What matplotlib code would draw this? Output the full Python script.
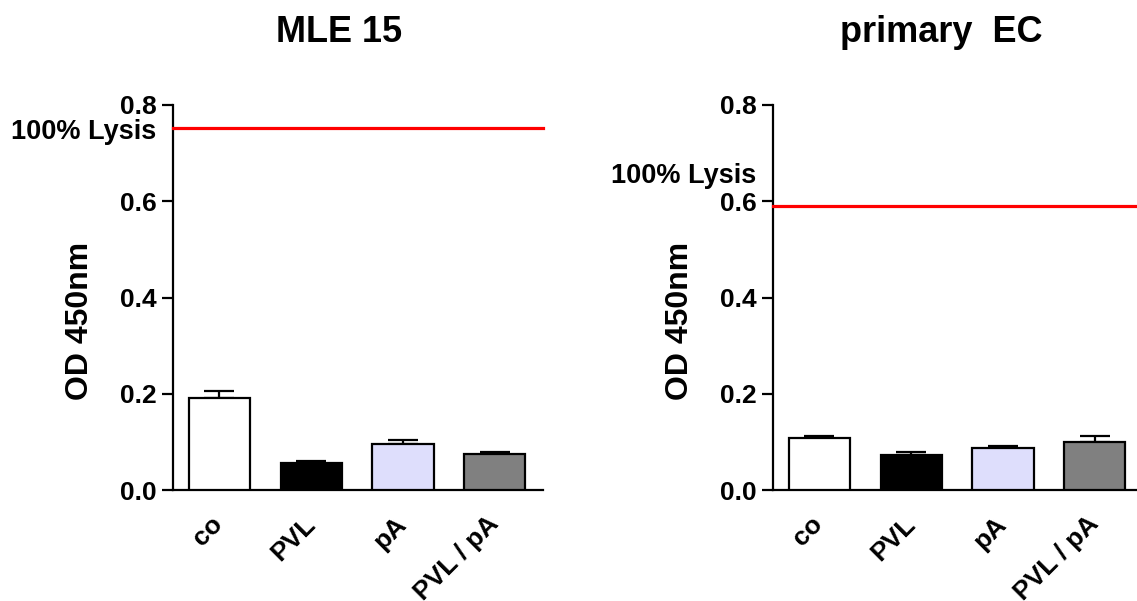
import matplotlib
matplotlib.use('Agg')
import matplotlib.pyplot as plt
import numpy as np

plt.rcParams['font.family'] = ['Liberation Sans', 'DejaVu Sans']
plt.rcParams['font.weight'] = 'bold'

categories = ['co', 'PVL', 'pA', 'PVL / pA']
bar_colors = ['#ffffff', '#000000', '#dedefc', '#808080']

mle_mean = [0.191, 0.056, 0.095, 0.075]
mle_err = [0.015, 0.005, 0.008, 0.003]
ec_mean = [0.108, 0.073, 0.088, 0.099]
ec_err = [0.005, 0.007, 0.004, 0.014]

titles = ['MLE 15', 'primary  EC']
lysis_level = [0.752, 0.59]
# where the "100% Lysis" text baseline sits (data units)
lysis_text_y = [0.730, 0.6376]

fig = plt.figure(figsize=(11.37, 6.01), dpi=100)
ax_w = 369.4 / 1137
ax_h = 385 / 601
ax_b = (601 - 490) / 601
axes = [fig.add_axes([173.3 / 1137, ax_b, ax_w, ax_h]),
        fig.add_axes([773.3 / 1137, ax_b, ax_w, ax_h])]

panels = [(mle_mean, mle_err), (ec_mean, ec_err)]
title_x = [339 / 1137, 941 / 1137]

for i, ax in enumerate(axes):
    mean, err = panels[i]
    x = np.arange(len(categories))
    ax.bar(x, mean, width=0.665, color=bar_colors, edgecolor='k', linewidth=1.6, zorder=3)
    ax.errorbar(x, mean, yerr=[np.zeros(len(err)), err], fmt='none', ecolor='k',
                elinewidth=1.6, capsize=11, capthick=1.6, zorder=2)
    ax.axhline(lysis_level[i], color='#ff0000', linewidth=2.3, zorder=4, clip_on=False)
    ax.text(-16.6 / 369.4, lysis_text_y[i], '100% Lysis', transform=ax.get_yaxis_transform(),
            ha='right', va='baseline', fontsize=19.5, fontweight='bold')

    ax.set_xlim(-0.5, 3.52)
    ax.set_ylim(0, 0.8)
    ax.set_yticks([0.0, 0.2, 0.4, 0.6, 0.8])
    ax.set_yticklabels(['0.0', '0.2', '0.4', '0.6', '0.8'])
    ax.set_xticks(x)
    ax.set_xticklabels(categories, rotation=45, ha='right', va='center',
                       rotation_mode='anchor')
    ax.tick_params(axis='y', length=8, width=1.6, pad=4, labelsize=19)
    ax.tick_params(axis='x', length=0, pad=22, labelsize=19)
    for lab in ax.get_xticklabels() + ax.get_yticklabels():
        lab.set_fontweight('bold')
    for s in ['top', 'right']:
        ax.spines[s].set_visible(False)
    for s in ['left', 'bottom']:
        ax.spines[s].set_linewidth(1.6)
    ax.text(-93 / 369.4, 0.438, 'OD 450nm', transform=ax.transAxes, rotation=90,
            ha='center', va='center', fontsize=23, fontweight='bold')
    fig.text(title_x[i], (601 - 42) / 601, titles[i], ha='center', va='baseline',
             fontsize=26, fontweight='bold')

plt.savefig('out.png', dpi=100)
